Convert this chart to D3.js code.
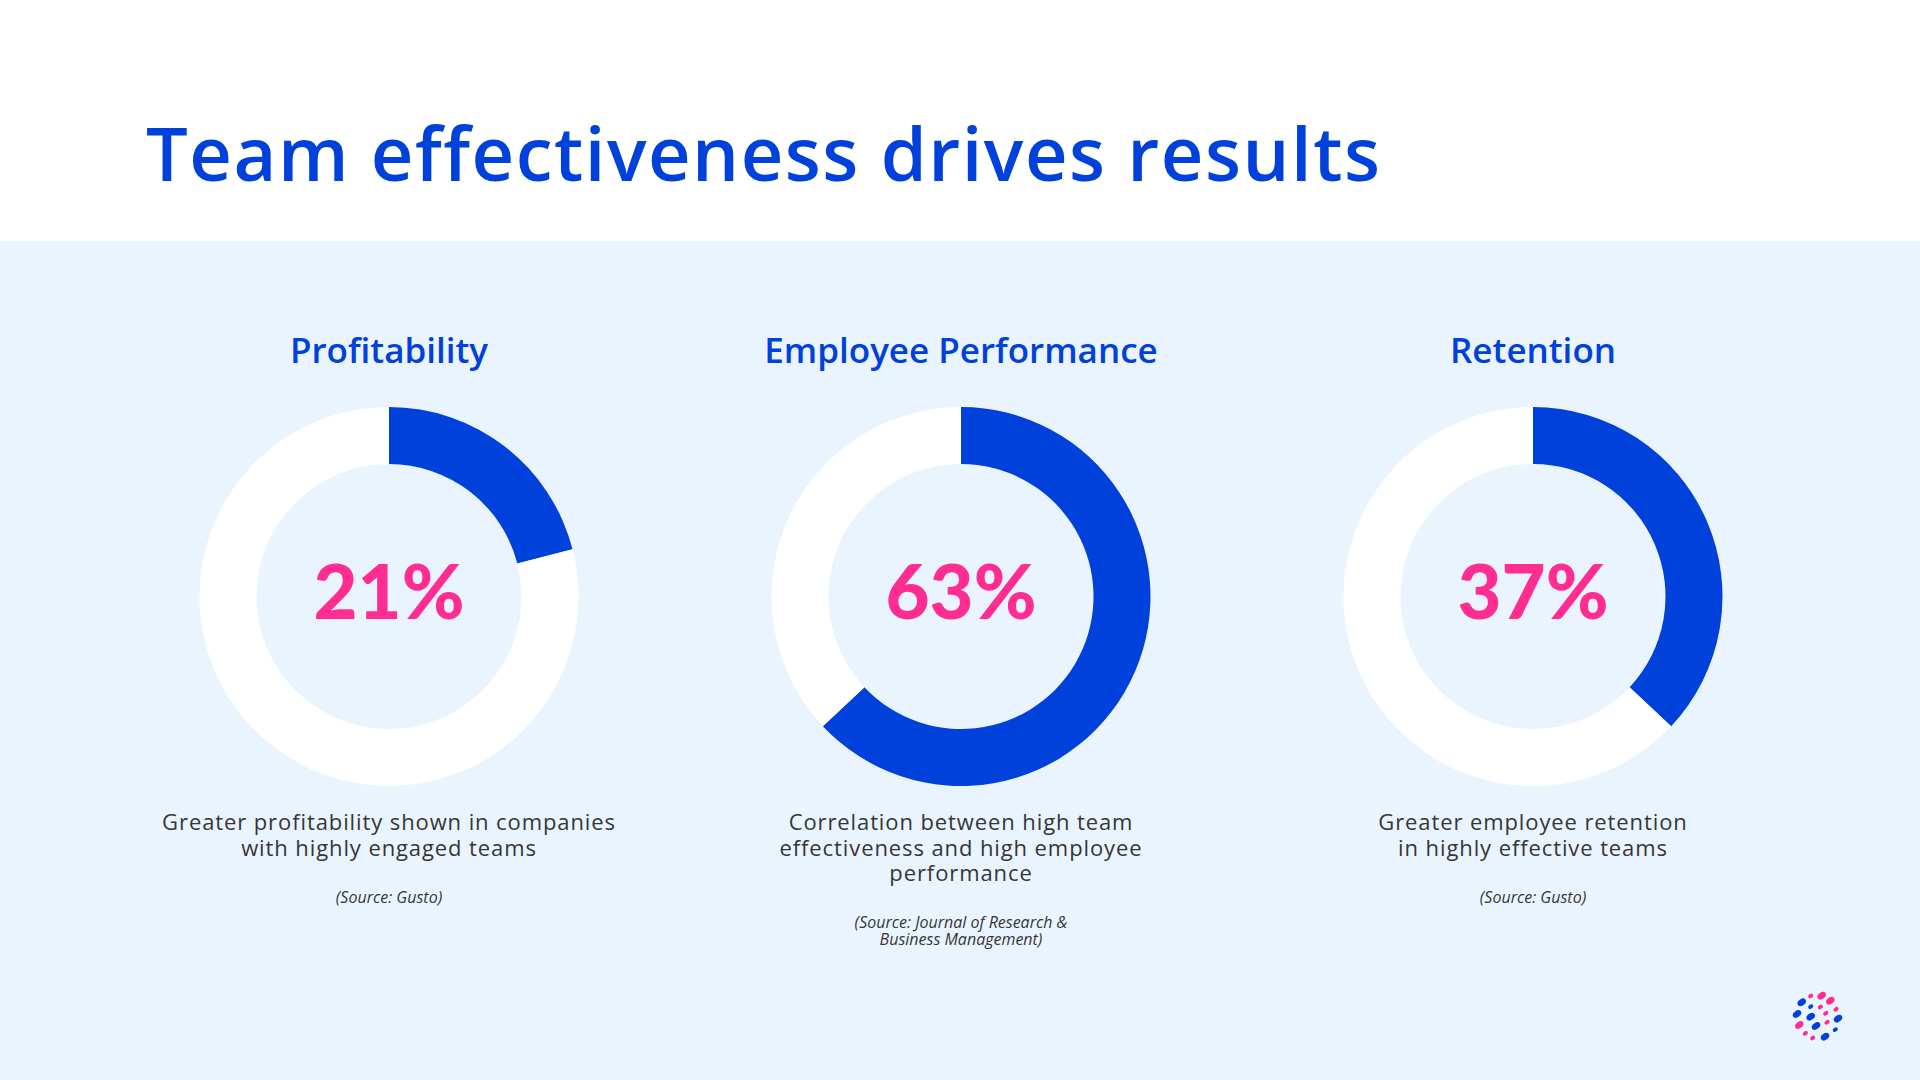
<!DOCTYPE html>
<html>
<head>
<meta charset="utf-8">
<script src="https://cdn.jsdelivr.net/npm/d3@7"></script>
<style>
  body { margin: 0; background: #fff; }
  svg { display: block; }
  text { font-family: "Open Sans", "Noto Sans", sans-serif; font-variant-ligatures: none; }
</style>
</head>
<body>
<svg id="chart" width="1920" height="1080"></svg>
<script>
// chart data
var categories = ['Profitability', 'Employee Performance', 'Retention'];
var values = [21, 63, 37];
var descriptions = [
    ['Greater profitability shown in companies', 'with highly engaged teams'],
    ['Correlation between high team', 'effectiveness and high employee', 'performance'],
    ['Greater employee retention', 'in highly effective teams']
];
var sources = [
    ['(Source: Gusto)'],
    ['(Source: Journal of Research &', 'Business Management)'],
    ['(Source: Gusto)']
];

var BLUE = '#0040DB';
var PINK = '#FF2D92';
var PANEL = '#EAF4FF';
var TEXT = '#363636';

var W = 1920, H = 1080;
var svg = d3.select('#chart');

// stretch a text's letter spacing so it spans the wanted width
function fitWidth(sel, target) {
    var node = sel.node();
    var len = node.getComputedTextLength();
    var n = node.textContent.length;
    sel.style('letter-spacing', ((target - len) / (n - 1)) + 'px');
}

// backgrounds
svg.append('rect').attr('width', W).attr('height', H).attr('fill', '#fff');
svg.append('rect').attr('x', 0).attr('y', 241).attr('width', W).attr('height', H - 241).attr('fill', PANEL);

var title = svg.append('text')
    .attr('x', 146).attr('y', 181)
    .attr('fill', BLUE)
    .style('font-size', '74px')
    .style('font-weight', 600)
    .text('Team effectiveness drives results');
fitWidth(title, 1234);

// one column per category
var x = d3.scalePoint().domain(categories).range([389, 1533]);
var cy = 596.5;
var pie = d3.pie().sort(null).value(function(d) { return d; });
var arc = d3.arc().innerRadius(132.5).outerRadius(189.5);

var cols = svg.selectAll('g.col')
    .data(categories)
    .enter().append('g')
    .attr('class', 'col')
    .attr('transform', function(d) { return 'translate(' + x(d) + ',0)'; });

cols.append('text')
    .attr('y', 363)
    .attr('text-anchor', 'middle')
    .attr('fill', BLUE)
    .style('font-size', '35px')
    .style('font-weight', 600)
    .text(function(d) { return d; });

var donut = cols.append('g').attr('transform', 'translate(0,' + cy + ')');
donut.selectAll('path')
    .data(function(d, i) { return pie([values[i], 100 - values[i]]); })
    .enter().append('path')
    .attr('d', arc)
    .attr('fill', function(d, i) { return i === 0 ? BLUE : '#fff'; });

cols.append('text')
    .attr('y', 619)
    .attr('text-anchor', 'middle')
    .attr('fill', PINK)
    .style('font-family', 'Lato, sans-serif')
    .style('font-size', '76px')
    .style('font-weight', 900)
    .text(function(d, i) { return values[i] + '%'; });

// description + source
cols.each(function(d, i) {
    var g = d3.select(this);
    var lines = descriptions[i];
    var desc = g.append('text')
        .attr('text-anchor', 'middle')
        .attr('fill', TEXT)
        .style('font-size', '22px')
        .style('letter-spacing', '0.9px');
    desc.selectAll('tspan').data(lines).enter().append('tspan')
        .attr('x', 0)
        .attr('y', function(l, j) { return 830 + j * 25.5; })
        .text(function(l) { return l; });

    var srcY = 830 + (lines.length - 1) * 25.5 + 47;
    var src = g.append('text')
        .attr('text-anchor', 'middle')
        .attr('fill', TEXT)
        .style('font-size', '16px')
        .style('font-style', 'italic');
    src.selectAll('tspan').data(sources[i]).enter().append('tspan')
        .attr('x', 0)
        .attr('y', function(l, j) { return srcY + j * 17; })
        .text(function(l) { return l; });
});

// logo mark, bottom right
var logoDots = [
    [1801.7, 1002.3, 1, 'b'], [1810.7, 996, 0, 'p'], [1821.7, 995.7, 1, 'p'],
    [1830.3, 1000.7, 1, 'p'], [1810.7, 1006.7, 0, 'b'], [1820.3, 1007, 0, 'p'],
    [1836, 1009.3, 0, 'p'], [1797, 1014, 1, 'b'], [1810.7, 1016.7, 1, 'b'],
    [1825.7, 1013.3, 0, 'p'], [1838, 1018.7, 1, 'b'], [1799.3, 1025, 1, 'p'],
    [1816, 1026, 1, 'b'], [1827, 1022.3, 0, 'p'], [1835.3, 1029.7, 0, 'b'],
    [1805.3, 1033.3, 0, 'p'], [1812.7, 1038, 0, 'p'], [1825, 1036.7, 1, 'b']
];
svg.append('g').selectAll('ellipse')
    .data(logoDots)
    .enter().append('ellipse')
    .attr('rx', function(d) { return d[2] ? 4.6 : 2.8; })
    .attr('ry', function(d) { return d[2] ? 3.2 : 2; })
    .attr('transform', function(d) { return 'translate(' + d[0] + ',' + d[1] + ') rotate(-35)'; })
    .attr('fill', function(d) { return d[3] === 'b' ? BLUE : PINK; });
</script>
</body>
</html>
